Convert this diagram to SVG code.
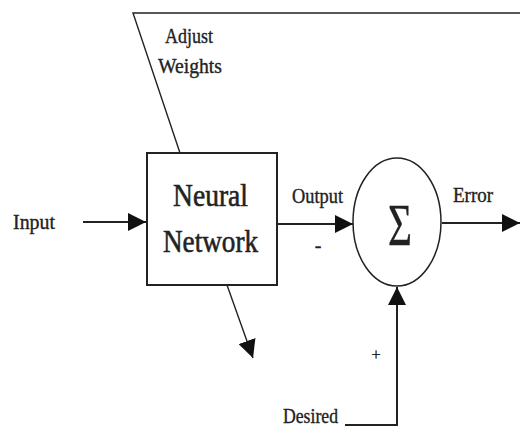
<svg xmlns="http://www.w3.org/2000/svg" width="520" height="428" viewBox="0 0 520 428">
  <style>
    .ln { stroke: #222; stroke-width: 2; fill: none; }
    .thin { stroke: #222; stroke-width: 1.4; fill: none; }
    .lbl { font-family: "Liberation Serif", "Times New Roman", serif; fill: #222; stroke: #222; stroke-width: 0.35; }
    .sm { font-size: 20px; }
    .big { font-size: 32px; stroke-width: 0.6; }
  </style>
  <defs>
    <marker id="ah" viewBox="0 0 10 10" refX="10" refY="5" markerWidth="18" markerHeight="18" markerUnits="userSpaceOnUse" orient="auto">
      <path d="M0,0 L10,5 L0,10 z" fill="#111"/>
    </marker>
  </defs>

  <g id="connectors">
    <!-- feedback: weight adjustment line -->
    <polyline class="thin" points="180,153 133,13 520,13" stroke-width="1.6"/>
    <!-- input to network -->
    <line class="ln" x1="83" y1="222" x2="146" y2="222" marker-end="url(#ah)"/>
    <!-- network output to summer -->
    <line class="ln" x1="277" y1="224" x2="353" y2="224" marker-end="url(#ah)"/>
    <!-- error out -->
    <line class="ln" x1="442" y1="223" x2="520" y2="223" marker-end="url(#ah)"/>
    <!-- desired signal into summer -->
    <polyline class="ln" points="345,425 397,425 397,287" marker-end="url(#ah)"/>
    <!-- arrow leaving network bottom -->
    <line class="thin" x1="227" y1="285" x2="253" y2="358" marker-end="url(#ah)"/>
  </g>

  <g id="network">
    <rect x="147" y="153" width="130" height="132" fill="#fff" stroke="#222" stroke-width="2"/>
    <text class="lbl big" x="173" y="206" textLength="75" lengthAdjust="spacingAndGlyphs">Neural</text>
    <text class="lbl big" x="163" y="252" textLength="95" lengthAdjust="spacingAndGlyphs">Network</text>
  </g>

  <g id="summer">
    <ellipse cx="397" cy="222" rx="44" ry="64" fill="#fff" stroke="#222" stroke-width="1.5"/>
    <text class="lbl" x="388" y="245" font-size="60" textLength="24" lengthAdjust="spacingAndGlyphs">Σ</text>
  </g>

  <g id="labels">
    <text class="lbl sm" x="13" y="229" textLength="42" lengthAdjust="spacingAndGlyphs">Input</text>
    <text class="lbl sm" x="292" y="203" textLength="51" lengthAdjust="spacingAndGlyphs">Output</text>
    <text class="lbl sm" x="318" y="252" text-anchor="middle">-</text>
    <text class="lbl sm" x="453" y="202" textLength="40" lengthAdjust="spacingAndGlyphs">Error</text>
    <text class="lbl" x="376" y="360" font-size="16" text-anchor="middle">+</text>
    <text class="lbl sm" x="283" y="423" textLength="55" lengthAdjust="spacingAndGlyphs">Desired</text>
    <text class="lbl sm" x="165" y="43" textLength="48" lengthAdjust="spacingAndGlyphs">Adjust</text>
    <text class="lbl sm" x="158" y="73" textLength="64" lengthAdjust="spacingAndGlyphs">Weights</text>
  </g>
</svg>
